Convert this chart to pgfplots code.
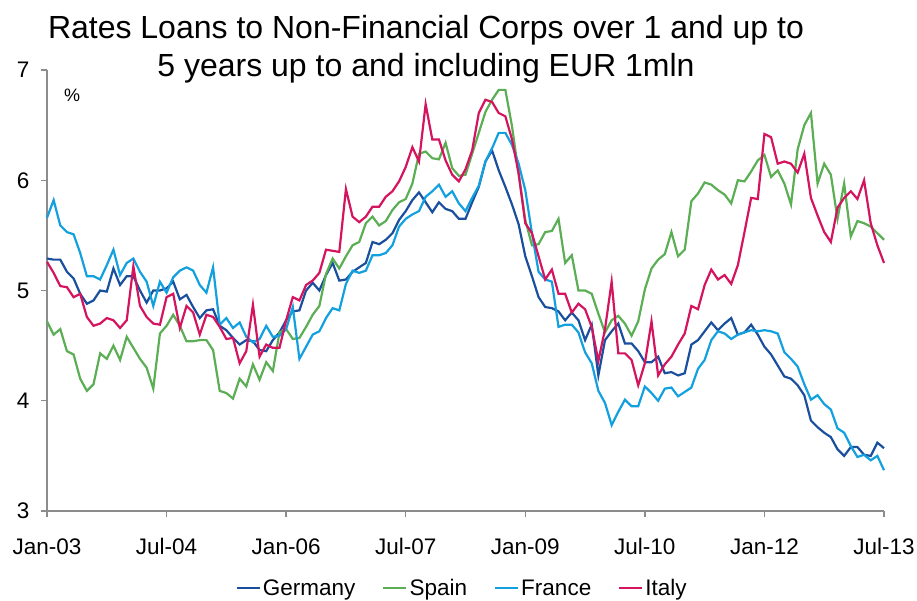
\documentclass[border=0pt]{standalone}
\usepackage{pgfplots}
\pgfplotsset{compat=1.18}
\usepackage{pgfplotstable}
\usepackage{fontspec}
\setmainfont{Liberation Sans}

\definecolor{deblue}{HTML}{1A4F9E}
\definecolor{esgreen}{HTML}{5CAE55}
\definecolor{frblue}{HTML}{12A0DF}
\definecolor{itred}{HTML}{D4145F}
\definecolor{axgray}{HTML}{8C8C8C}

% monthly rates, m = months since Jan-03
\pgfplotstableread{
m ger spa fra ita
0 5.29 4.72 5.66 5.26
1 5.28 4.60 5.82 5.16
2 5.28 4.65 5.59 5.04
3 5.17 4.45 5.53 5.03
4 5.11 4.42 5.51 4.94
5 4.97 4.20 5.34 4.97
6 4.88 4.09 5.13 4.76
7 4.91 4.15 5.13 4.68
8 5.00 4.43 5.10 4.70
9 4.99 4.38 5.23 4.75
10 5.20 4.50 5.37 4.73
11 5.05 4.37 5.14 4.66
12 5.13 4.58 5.25 4.73
13 5.13 4.48 5.29 5.22
14 5.00 4.38 5.17 4.86
15 4.89 4.30 5.08 4.76
16 5.00 4.11 4.86 4.70
17 5.00 4.61 5.08 4.69
18 5.02 4.68 4.98 4.94
19 5.08 4.78 5.12 4.97
20 4.92 4.68 5.18 4.66
21 4.96 4.54 5.21 4.86
22 4.85 4.54 5.18 4.80
23 4.75 4.55 5.05 4.60
24 4.82 4.55 4.98 4.78
25 4.83 4.46 5.21 4.76
26 4.68 4.09 4.69 4.67
27 4.64 4.07 4.75 4.56
28 4.57 4.02 4.66 4.57
29 4.51 4.20 4.71 4.34
30 4.55 4.13 4.58 4.45
31 4.54 4.33 4.53 4.87
32 4.46 4.19 4.56 4.40
33 4.45 4.35 4.68 4.51
34 4.55 4.27 4.58 4.48
35 4.62 4.62 4.59 4.48
36 4.73 4.65 4.65 4.73
37 4.81 4.56 4.85 4.94
38 4.82 4.57 4.38 4.91
39 5.00 4.67 4.49 5.05
40 5.07 4.78 4.60 5.09
41 5.00 4.86 4.63 5.16
42 5.14 5.15 4.75 5.37
43 5.25 5.29 4.84 5.36
44 5.09 5.20 4.82 5.35
45 5.10 5.31 5.06 5.92
46 5.17 5.41 5.18 5.67
47 5.21 5.44 5.16 5.62
48 5.25 5.61 5.18 5.67
49 5.44 5.67 5.32 5.76
50 5.42 5.59 5.32 5.76
51 5.46 5.63 5.34 5.85
52 5.52 5.73 5.41 5.90
53 5.64 5.80 5.58 5.99
54 5.72 5.83 5.65 6.12
55 5.82 5.97 5.69 6.30
56 5.89 6.24 5.72 6.17
57 5.80 6.26 5.85 6.69
58 5.71 6.20 5.90 6.37
59 5.80 6.19 5.96 6.37
60 5.74 6.34 5.85 6.18
61 5.72 6.11 5.90 6.05
62 5.65 6.04 5.79 5.99
63 5.65 6.05 5.72 6.10
64 5.80 6.24 5.84 6.27
65 5.94 6.43 5.95 6.61
66 6.17 6.62 6.17 6.73
67 6.27 6.73 6.29 6.71
68 6.09 6.82 6.43 6.61
69 5.94 6.82 6.43 6.58
70 5.78 6.49 6.32 6.37
71 5.60 6.06 6.15 6.06
72 5.31 5.64 5.91 5.61
73 5.13 5.41 5.52 5.52
74 4.94 5.42 5.17 5.31
75 4.85 5.53 5.10 5.10
76 4.84 5.54 5.08 5.19
77 4.81 5.65 4.67 4.97
78 4.73 5.25 4.69 4.97
79 4.80 5.32 4.69 4.80
80 4.73 5.00 4.62 4.88
81 4.55 5.00 4.44 4.83
82 4.69 4.97 4.34 4.67
83 4.23 4.79 4.09 4.36
84 4.55 4.62 3.98 4.65
85 4.63 4.73 3.78 5.08
86 4.70 4.77 3.90 4.43
87 4.52 4.70 4.01 4.43
88 4.52 4.59 3.95 4.37
89 4.45 4.72 3.95 4.14
90 4.35 5.01 4.13 4.34
91 4.35 5.20 4.07 4.72
92 4.40 5.28 4.00 4.23
93 4.25 5.33 4.11 4.33
94 4.26 5.53 4.12 4.40
95 4.23 5.31 4.04 4.51
96 4.25 5.37 4.08 4.61
97 4.51 5.81 4.12 4.86
98 4.55 5.88 4.29 4.83
99 4.63 5.98 4.37 5.05
100 4.71 5.96 4.55 5.19
101 4.64 5.91 4.63 5.10
102 4.70 5.87 4.61 5.14
103 4.75 5.79 4.56 5.06
104 4.60 6.00 4.60 5.23
105 4.62 5.99 4.62 5.53
106 4.69 6.08 4.64 5.84
107 4.60 6.18 4.63 5.83
108 4.49 6.23 4.64 6.42
109 4.42 6.03 4.63 6.39
110 4.32 6.09 4.61 6.15
111 4.22 5.97 4.44 6.17
112 4.20 5.78 4.38 6.15
113 4.14 6.28 4.31 6.07
114 4.05 6.50 4.15 6.24
115 3.82 6.61 4.01 5.84
116 3.76 5.97 4.05 5.68
117 3.71 6.15 3.97 5.53
118 3.67 6.05 3.92 5.44
119 3.56 5.65 3.75 5.75
120 3.50 5.97 3.71 5.84
121 3.58 5.49 3.59 5.90
122 3.58 5.63 3.49 5.83
123 3.51 5.61 3.51 6.00
124 3.50 5.58 3.46 5.61
125 3.62 5.52 3.50 5.41
126 3.57 5.46 3.37 5.25
}\rates

\begin{document}
\begin{tikzpicture}
\path[use as bounding box] (0,0) rectangle (917pt,-600pt);
\node[anchor=base, font=\fontsize{32}{37}\selectfont] at (426pt,-38pt) {Rates Loans to Non-Financial Corps over 1 and up to};
\node[anchor=base, font=\fontsize{32}{37}\selectfont] at (426pt,-76pt) {5 years up to and including EUR 1mln};
\begin{axis}[
  at={(47pt,-511pt)}, anchor=south west,
  scale only axis, width=837pt, height=441pt,
  xmin=0, xmax=126, ymin=3, ymax=7,
  axis x line=bottom, axis y line=left,
  axis line style={-, draw=axgray, line width=1.3pt},
  xtick={0,18,36,54,72,90,108,126},
  xticklabels={Jan-03,Jul-04,Jan-06,Jul-07,Jan-09,Jul-10,Jan-12,Jul-13},
  ytick={3,4,5,6,7},
  tick align=outside, major tick length=6pt,
  tick style={draw=axgray, line width=1.3pt},
  ticklabel style={font=\fontsize{22.5}{26}\selectfont},
  xticklabel style={yshift=-18pt},
  yticklabel style={xshift=-8pt},
  /pgf/number format/assume math mode=true,
  legend columns=4,
  legend style={at={(0.496,-0.175)}, anchor=center, draw=none, fill=none,
    font=\fontsize{22.5}{26}\selectfont,
    /tikz/every even column/.append style={column sep=25pt}},
  legend image code/.code={\draw[#1] (0pt,0pt) -- (23pt,0pt);},
  every axis plot/.append style={line width=2.2pt},
  clip=false,
]
\addplot[deblue] table[x=m, y=ger] {\rates};
\addlegendentry{Germany}
\addplot[esgreen] table[x=m, y=spa] {\rates};
\addlegendentry{Spain}
\addplot[frblue] table[x=m, y=fra] {\rates};
\addlegendentry{France}
\addplot[itred] table[x=m, y=ita] {\rates};
\addlegendentry{Italy}
\node[font=\fontsize{18}{20}\selectfont] at (axis cs:3.8,6.77) {\%};
\end{axis}
\end{tikzpicture}
\end{document}
